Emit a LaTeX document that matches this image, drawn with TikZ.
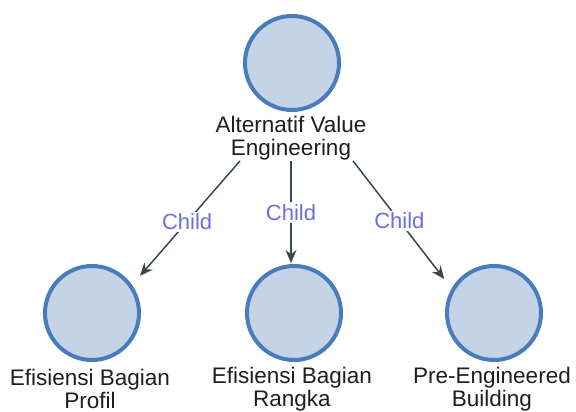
\documentclass[tikz,border=0pt]{standalone}
\usepackage{fontspec}
\setmainfont{Liberation Sans}
\usepackage{xcolor}
\usetikzlibrary{shapes, arrows.meta, positioning}

\definecolor{bulatIsi}{RGB}{197,211,231}
\definecolor{bulatTepi}{RGB}{72,124,186}
\definecolor{panah}{RGB}{55,74,70}
\definecolor{anak}{RGB}{108,110,222}
\definecolor{teks}{RGB}{30,30,30}

\tikzset{
	bulat/.style={circle, draw=bulatTepi, fill=bulatIsi, line width=4pt, minimum size=94pt, inner sep=0pt},
	judul/.style={align=center, text=teks, font=\fontsize{22.5}{22.5}\selectfont, inner sep=1pt},
	hubung/.style={draw=panah, line width=1.5pt, -{Stealth[length=13pt,width=11pt]}},
	relasi/.style={text=anak, fill=white, font=\fontsize{22}{23}\selectfont, inner sep=2pt}
}

\begin{document}
\begin{tikzpicture}[x=1pt, y=-1pt]
				\useasboundingbox (0,0) rectangle (576,412);
				% induk
				\node[bulat] (root) at (292,63) {};
				\node[judul] (rootTeks) at (291,138) {Alternatif Value\\Engineering};
				% anak-anak
				\node[bulat] (profil) at (92,313) {};
				\node[bulat] (rangka) at (294,313) {};
				\node[bulat] (peb) at (494,313) {};
				\node[judul] (profilTeks) at (90,389) {Efisiensi Bagian\\Profil};
				\node[judul] (rangkaTeks) at (292,389) {Efisiensi Bagian\\Rangka};
				\node[judul] (pebTeks) at (492,389) {Pre-Engineered\\Building};
				% panah Child
				\draw[hubung, shorten >=12pt] ([xshift=-51pt]rootTeks.south) -- (profil.35) node[relasi, pos=0.49] {Child};
				\draw[hubung, shorten >=1pt] (rootTeks.south) -- (rootTeks.south |- rangka.north) node[relasi, pos=0.5] {Child};
				\draw[hubung, shorten >=12pt] ([xshift=62pt]rootTeks.south) -- (peb.150) node[relasi, pos=0.47] {Child};
			\end{tikzpicture}
\end{document}
